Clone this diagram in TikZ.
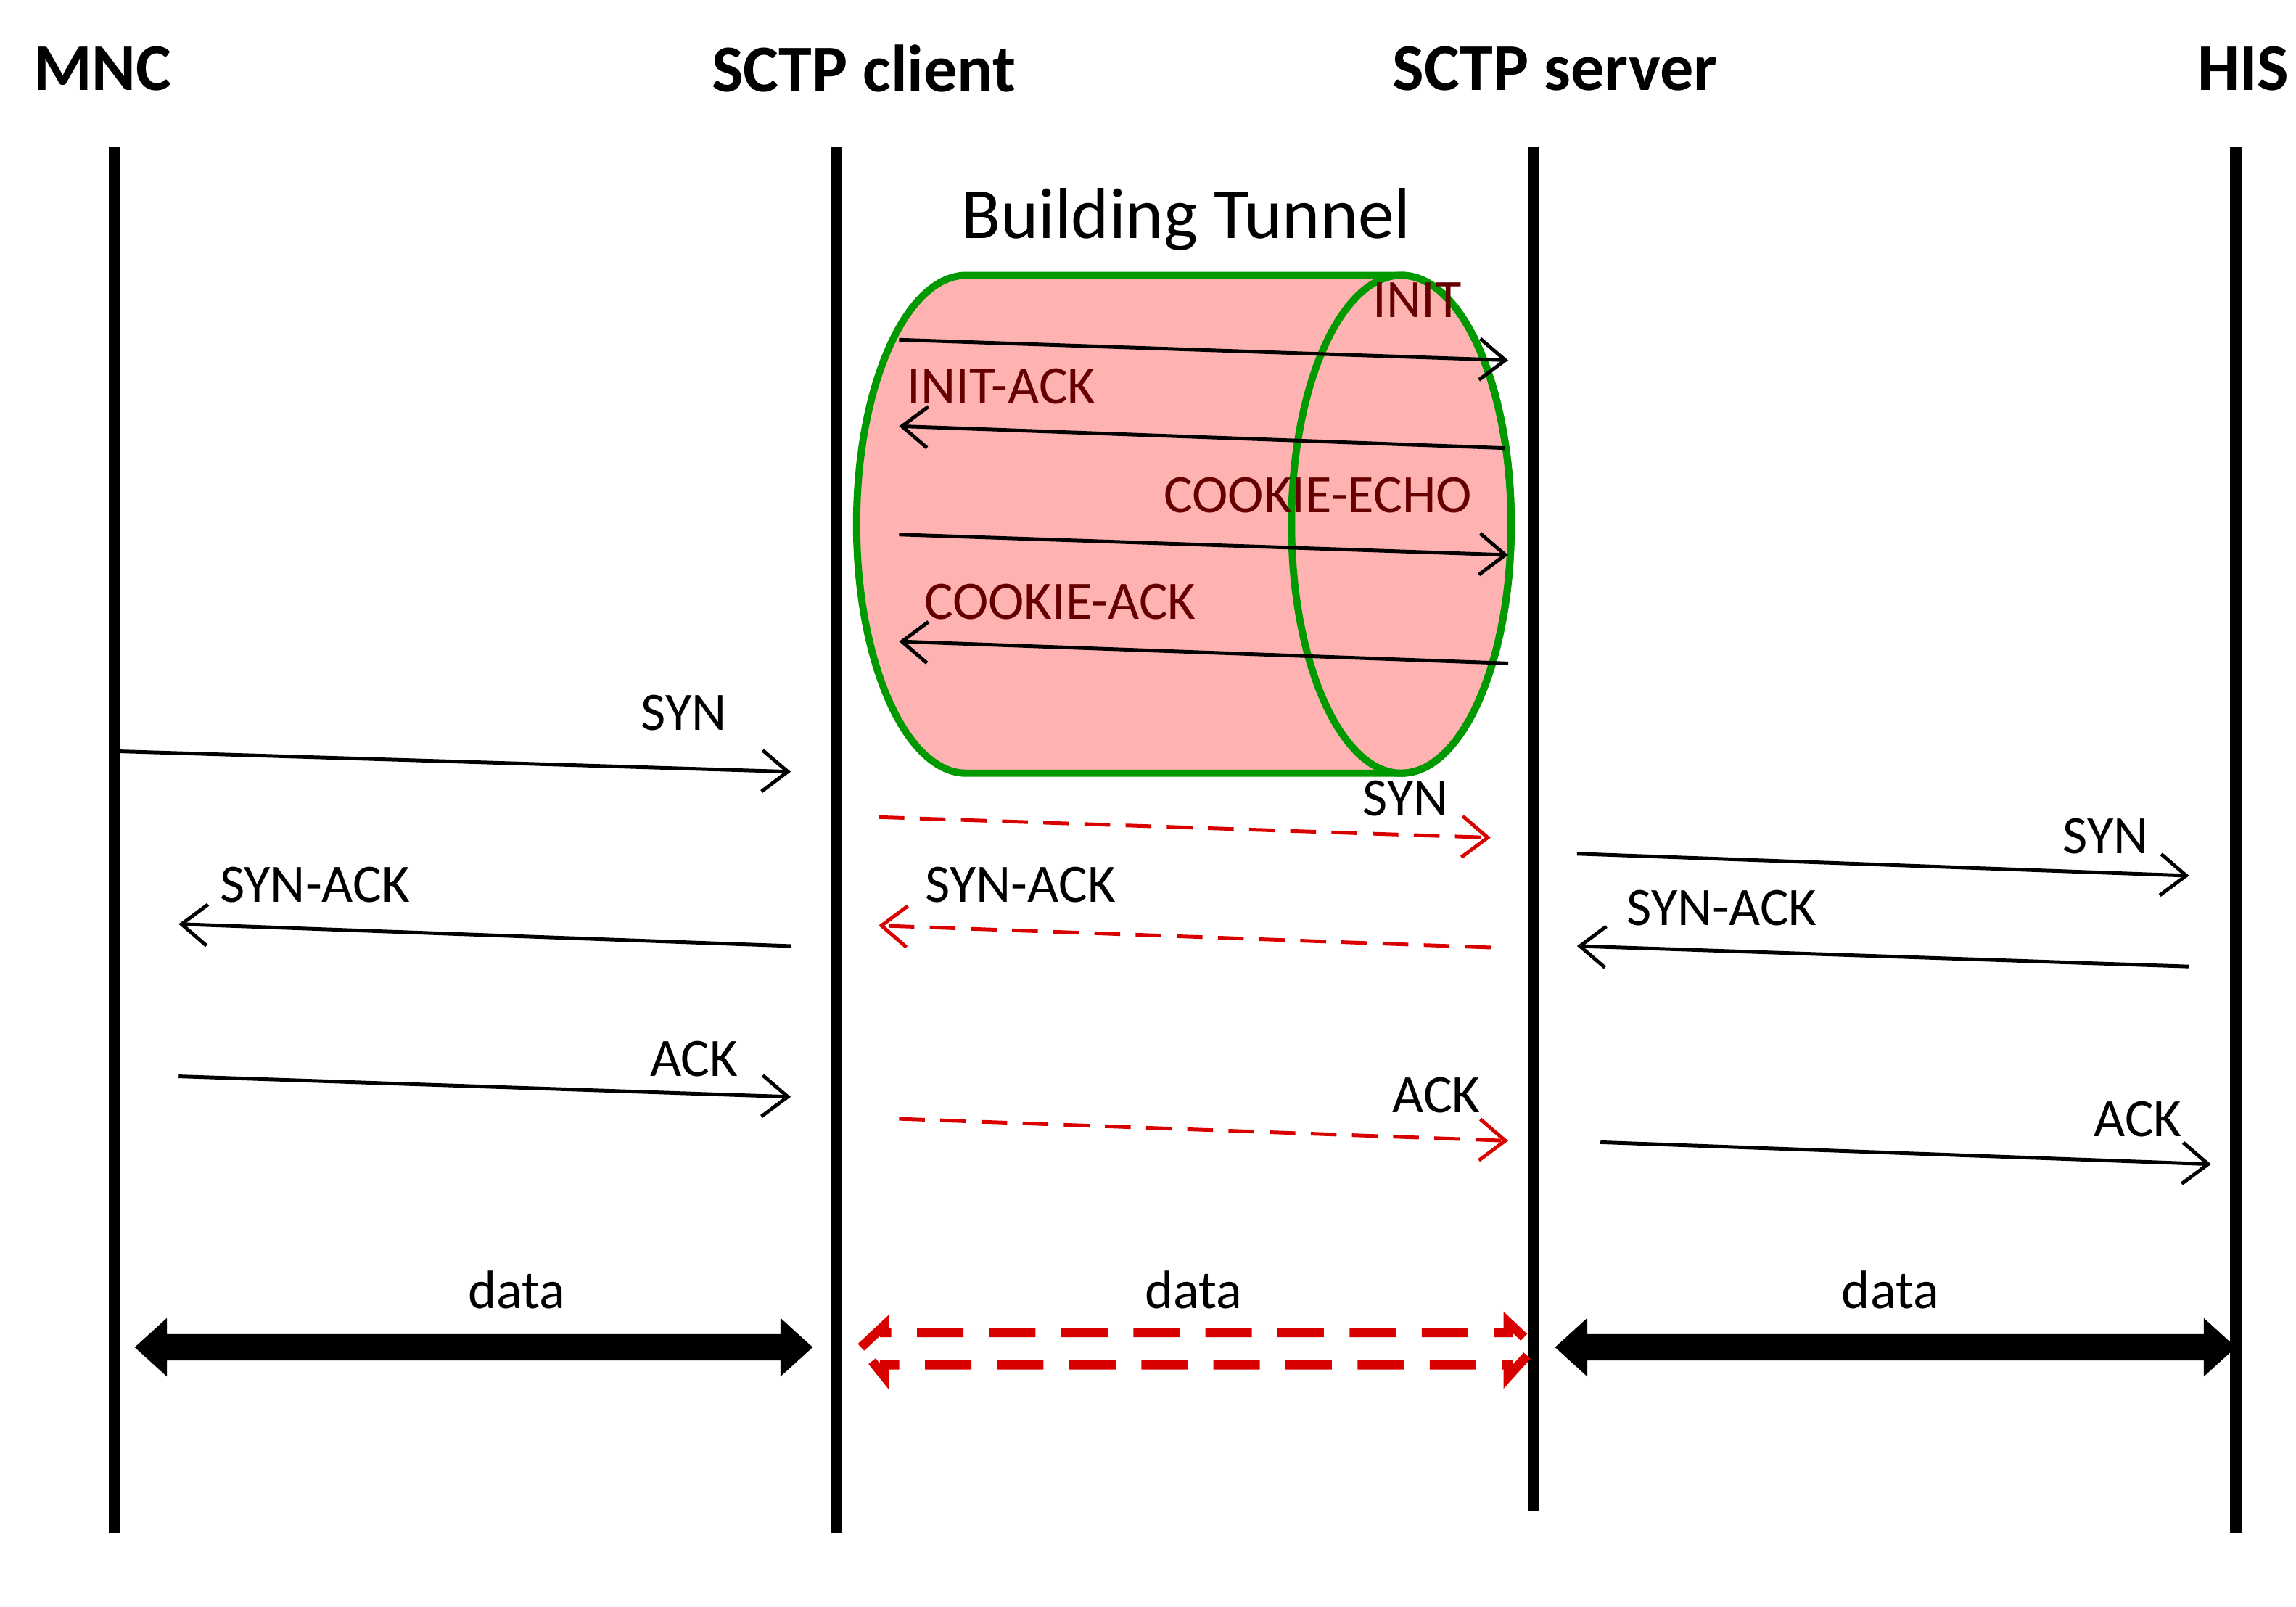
\documentclass[tikz,border=0pt]{standalone}
\usepackage{fontspec}
\setmainfont{Carlito}
\usetikzlibrary{arrows.meta}
\begin{document}
\begin{tikzpicture}[x=0.01cm,y=-0.01cm,
  life/.style={line width=2.2pt},
  title/.style={font=\fontsize{13}{15}\selectfont\bfseries},
  lbl/.style={font=\fontsize{10.5}{12}\selectfont},
  msg/.style={line width=0.7pt,-{Straight Barb[length=5pt,width=8pt]}},
  rmsg/.style={line width=0.7pt,red!85!black,dash pattern=on 5pt off 3pt,-{Straight Barb[length=5pt,width=8pt,sep=0pt]},
     arrows={-{Straight Barb[length=5pt,width=8pt,line width=0.7pt]}}},
  tun/.style={text=red!40!black}]
\useasboundingbox (0,0) rectangle (1568,1097);
% tunnel
\draw[green!60!black,line width=1.4pt,fill=red!30]
  (957,188) -- (660,188) arc[start angle=270,end angle=90,x radius=75,y radius=170] -- (957,528)
  arc[start angle=90,end angle=-90,x radius=75,y radius=170] -- cycle;
\draw[green!60!black,line width=1.4pt] (957,358) ellipse[x radius=75,y radius=170];
% titles
\node[title] (tMNC) at (70,47) {MNC};
\node[title] (tCl) at (590,47) {SCTP client};
\node[title] (tSv) at (1062,47) {SCTP server};
\node[title] (tHIS) at (1532,47) {HIS};
% lifelines
\draw[life] (78,100) coordinate (m1) -- (78,1047) coordinate (m2);
\draw[life] (571,100) coordinate (c1) -- (571,1047) coordinate (c2);
\draw[life] (1047,100) coordinate (s1) -- (1047,1032) coordinate (s2);
\draw[life] (1527,100) coordinate (h1) -- (1527,1047) coordinate (h2);
\node[font=\fontsize{14}{16}\selectfont] (bt) at (810,150) {Building Tunnel};
% tunnel messages
\coordinate (i1) at (614,232); \coordinate (i2) at (1030,246);
\draw[msg] (i1) -- (i2); \node[lbl,tun] (li) at (968,205) {INIT};
\coordinate (ia1) at (1028,306); \coordinate (ia2) at (614,291);
\draw[msg] (ia1) -- (ia2); \node[lbl,tun] (lia) at (684,264) {INIT-ACK};
\coordinate (ce1) at (614,365); \coordinate (ce2) at (1030,379);
\draw[msg] (ce1) -- (ce2); \node[lbl,tun] (lce) at (900,338) {COOKIE-ECHO};
\coordinate (ca1) at (1030,453); \coordinate (ca2) at (614,438);
\draw[msg] (ca1) -- (ca2); \node[lbl,tun] (lca) at (724,411) {COOKIE-ACK};
% SYN
\coordinate (a1) at (80,513); \coordinate (a2) at (540,527);
\draw[msg] (a1) -- (a2); \node[lbl] (la) at (467,487) {SYN};
\coordinate (b1) at (600,558); \coordinate (b2) at (1018,572);
\draw[rmsg] (b1) -- (b2); \node[lbl] (lb) at (960,545) {SYN};
\coordinate (c1a) at (1077,583); \coordinate (c2a) at (1495,598);
\draw[msg] (c1a) -- (c2a); \node[lbl] (lc) at (1438,571) {SYN};
% SYN-ACK
\coordinate (d1) at (540,646); \coordinate (d2) at (122,631);
\draw[msg] (d1) -- (d2); \node[lbl] (ld) at (215,604) {SYN-ACK};
\coordinate (e1) at (1018,647); \coordinate (e2) at (600,632);
\draw[rmsg] (e1) -- (e2); \node[lbl] (le) at (697,604) {SYN-ACK};
\coordinate (f1) at (1495,660); \coordinate (f2) at (1077,646);
\draw[msg] (f1) -- (f2); \node[lbl] (lf) at (1176,620) {SYN-ACK};
% ACK
\coordinate (g1) at (122,735); \coordinate (g2) at (540,749);
\draw[msg] (g1) -- (g2); \node[lbl] (lg) at (474,723) {ACK};
\coordinate (k1) at (614,764); \coordinate (k2) at (1030,779);
\draw[rmsg] (k1) -- (k2); \node[lbl] (lk) at (981,748) {ACK};
\coordinate (n1) at (1093,780); \coordinate (n2) at (1510,795);
\draw[msg] (n1) -- (n2); \node[lbl] (ln) at (1460,764) {ACK};
% data
\fill (92,920) -- (114,900) -- (114,911) -- (533,911) -- (533,900) -- (555,920) -- (533,940) -- (533,929) -- (114,929) -- (114,940) -- cycle;
\node[lbl] (d1l) at (353,881) {data};
\fill (1062,920) -- (1084,900) -- (1084,911) -- (1505,911) -- (1505,900) -- (1527,920) -- (1505,940) -- (1505,929) -- (1084,929) -- (1084,940) -- cycle;
\node[lbl] (d3l) at (1291,881) {data};
\draw[red!85!black,line width=1.8pt,dash pattern=on 9pt off 5pt]
  (588,920) -- (604,905) -- (604,910) -- (1030,910) -- (1030,903) -- (1048,920) -- (1030,940) -- (1030,932) -- (604,932) -- (604,940) -- cycle;
\node[lbl] (d2l) at (815,881) {data};
\end{tikzpicture}
\end{document}
